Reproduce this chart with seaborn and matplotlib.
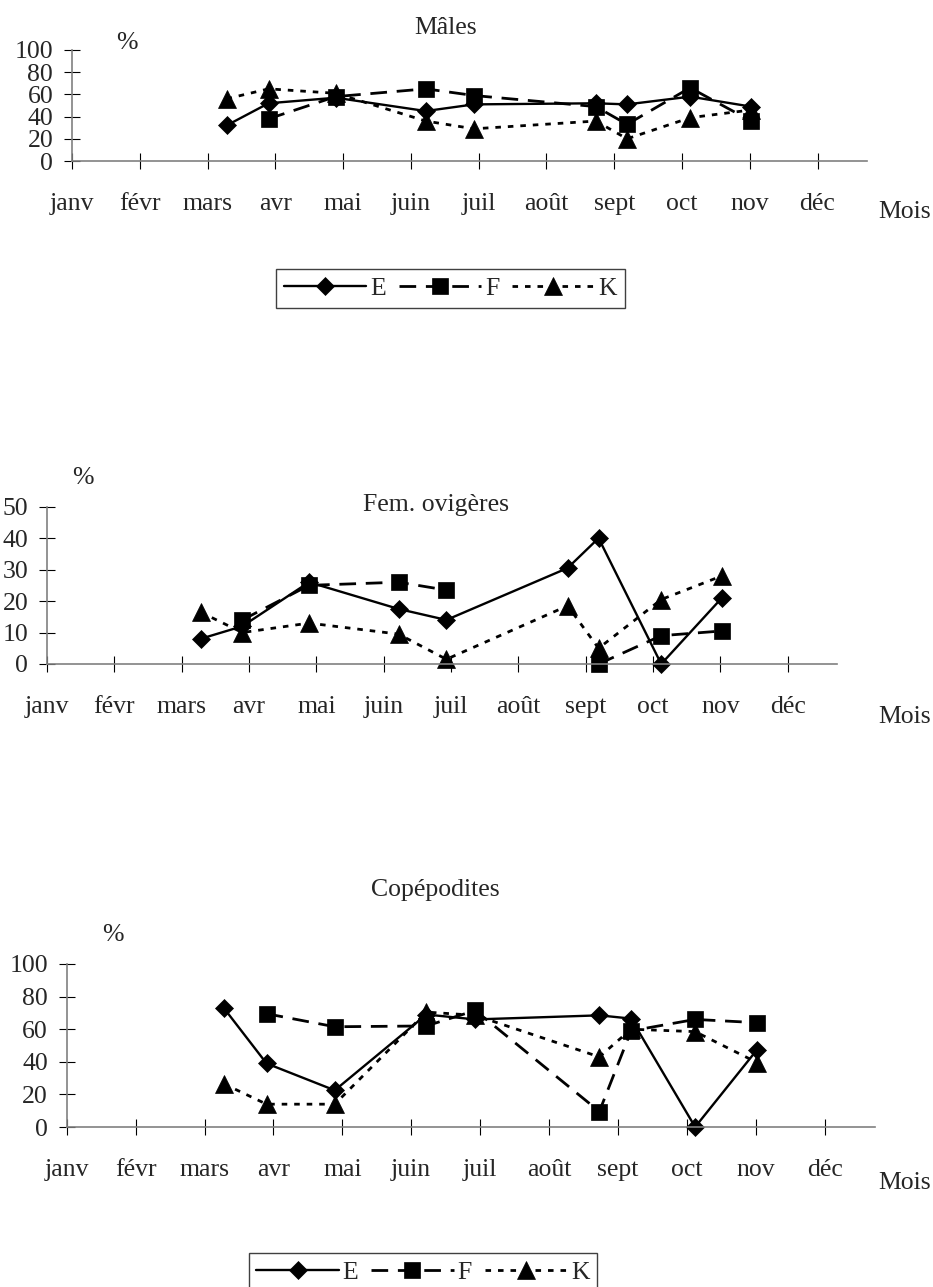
import numpy as np
import pandas as pd
import matplotlib
matplotlib.use("Agg")
import matplotlib.pyplot as plt
import seaborn as sns

# Month axis (janv = 0) and sampling dates expressed in month units
months = ["janv", "févr", "mars", "avr", "mai", "juin", "juil", "août", "sept", "oct", "nov", "déc"]
sample_pos = [2.28, 2.90, 3.89, 5.22, 5.93, 7.73, 8.19, 9.12, 10.02]

# Percentages per station (E, F, K); NaN = no sample
males_E = [32, 52, 57, 45, 51, 52, 51, 58, 49]
males_F = [np.nan, 38, 58, 65, 59, 49, 33, 66, 36]
males_K = [56, 65, 61, 36, 29, 36, 20, 39, 46]

fem_E = [8, 12, 26, 17.5, 14, 30.5, 40, 0, 21]
fem_F = [np.nan, 14, 25, 26, 23.5, np.nan, 0, 9, 10.5]
fem_K = [16.5, 10, 13, 9.5, 1.5, 18.5, 5, 20.5, 28]

cop_E = [73, 39, 22.5, 69, 66, 68.5, 66.5, 0, 47.5]
cop_F = [np.nan, 69.5, 61.5, 62, 71.5, 9.5, 59, 66, 64]
cop_K = [26.5, 14, 14, 70.5, 68.5, 43, 60, 58.5, 39.5]

sns.set_style("white")
plt.rcParams["font.family"] = ["Liberation Serif", "DejaVu Serif"]
plt.rcParams["font.size"] = 18.5

W, H = 933, 1287
fig = plt.figure(figsize=(W / 100, H / 100), dpi=100)

styles = {
    "E": dict(marker="D", linestyle="-", linewidth=1.7, markersize=9.5),
    "F": dict(marker="s", linestyle=(0, (6, 3.5)), linewidth=2.0, markersize=12),
    "K": dict(marker="^", linestyle=(0, (2, 2.5)), linewidth=2.0, markersize=13),
}


def add_axes_px(left, zero_y, right, height):
    return fig.add_axes([left / W, (H - zero_y) / H, (right - left) / W, height / H])


def draw_series(ax, values, name):
    df = pd.DataFrame({"mois": sample_pos, "pct": values})
    df["segment"] = df["pct"].isna().cumsum()
    df = df.dropna()
    for i, (_, seg) in enumerate(df.groupby("segment")):
        kws = dict(styles[name])
        if i == 0:
            kws["label"] = name
        sns.lineplot(data=seg, x="mois", y="pct", ax=ax, color="black",
                     estimator=None, errorbar=None, sort=False, legend=False,
                     markeredgecolor="black", markeredgewidth=0.5,
                     clip_on=False, **kws)


def style_axes(ax, ymax, ystep):
    ax.set_xlim(0, 11.73)
    ax.set_ylim(0, ymax)
    ax.set_xticks(range(12))
    ax.set_xticklabels(months)
    ax.set_yticks(np.arange(0, ymax + 1, ystep))
    ax.set_xlabel("")
    ax.set_ylabel("")
    for s in ["top", "right"]:
        ax.spines[s].set_visible(False)
    for s in ["left", "bottom"]:
        ax.spines[s].set_color("#808080")
        ax.spines[s].set_linewidth(1.2)
    ax.tick_params(direction="inout", length=11, width=0.8, color="black",
                   labelsize=18.5, left=True, bottom=True)
    ax.tick_params(axis="x", pad=17.5)
    ax.tick_params(axis="y", pad=8)
    ax.set_facecolor("none")


def ftext(x, y, s, **kw):
    fig.text(x / W, 1 - y / H, s, ha="center", va="center", fontsize=18.5, **kw)


panels = [
    dict(box=(72, 161, 867, 111), ymax=100, ystep=20, data=(males_E, males_F, males_K),
         title="Mâles", title_xy=(446, 28), pct_xy=(127, 43), mois_xy=(905, 212)),
    dict(box=(47, 664, 837, 157.3), ymax=50, ystep=10, data=(fem_E, fem_F, fem_K),
         title="Fem. ovigères", title_xy=(436, 505), pct_xy=(83, 478), mois_xy=(905, 717)),
    dict(box=(66.7, 1127, 875, 163), ymax=100, ystep=20, data=(cop_E, cop_F, cop_K),
         title="Copépodites", title_xy=(435, 890), pct_xy=(113, 935), mois_xy=(905, 1183)),
]

handles = None
for p in panels:
    ax = add_axes_px(*p["box"])
    for name, vals in zip(["E", "F", "K"], p["data"]):
        draw_series(ax, vals, name)
    style_axes(ax, p["ymax"], p["ystep"])
    if handles is None:
        handles, labels = ax.get_legend_handles_labels()
    ftext(*p["title_xy"], p["title"])
    ftext(*p["pct_xy"], "%")
    ftext(*p["mois_xy"], "Mois")

legend_kw = dict(loc="center", ncol=3, frameon=True, fancybox=False, shadow=False,
                 edgecolor="#404040", framealpha=1, fontsize=18.5, handlelength=3.2,
                 handletextpad=0.16, columnspacing=0.5, borderpad=0.3,
                 numpoints=1)
for cx, cy in [(450.5, 288.5), (423, 1272.5)]:
    leg = fig.legend(handles, labels, bbox_to_anchor=(cx / W, 1 - cy / H), **legend_kw)
    leg.get_frame().set_linewidth(1.0)

fig.savefig("out.png", dpi=100)
